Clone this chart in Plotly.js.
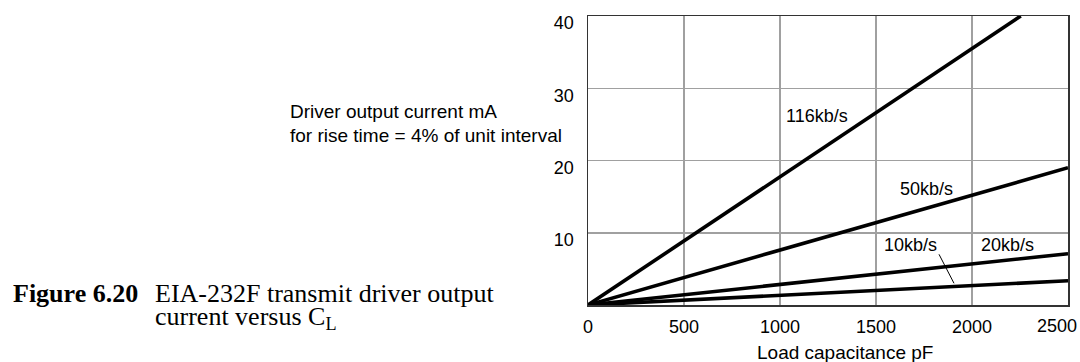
<!DOCTYPE html>
<html>
<head>
<meta charset="utf-8">
<script src="https://cdn.plot.ly/plotly-3.0.1.min.js"></script>
<style>html,body{margin:0;padding:0;background:#fff;}#chart{width:1080px;height:362px;}</style>
</head>
<body>
<div id="chart"></div>
<script>
// ---- data ----
const seriesNames = ['116kb/s', '50kb/s', '20kb/s', '10kb/s'];
const x116 = [0, 2254];
const y116 = [0, 40];
const x50 = [0, 2500];
const y50 = [0, 19.0];
const x20 = [0, 2500];
const y20 = [0, 7.1];
const x10 = [0, 2500];
const y10 = [0, 3.35];
const xTickVals = [0, 500, 1000, 1500, 2000, 2500];
const xTickText = ['0', '500', '1000', '1500', '2000', '2500'];
const yTickVals = [10, 20, 30, 40];
const yTickText = ['10', '20', '30', '40'];

// ---- layout helpers (pixel -> paper) ----
const L = 588, R = 1068, T = 16, B = 305;
const px = v => (v - L) / (R - L);
const py = v => (B - v) / (B - T);
const SANS = 'Arial, "Liberation Sans", Helvetica, sans-serif';
const SERIF = '"Times New Roman", "Liberation Serif", Times, serif';

const lineStyle = {color: '#000', width: 3.6};
const traces = [
  {x: x116, y: y116, name: seriesNames[0]},
  {x: x50, y: y50, name: seriesNames[1]},
  {x: x20, y: y20, name: seriesNames[2]},
  {x: x10, y: y10, name: seriesNames[3]}
].map(t => Object.assign(t, {type: 'scatter', mode: 'lines', line: lineStyle, cliponaxis: false, hoverinfo: 'skip'}));

// label positions (pixels) for the series names
const labelPos = [[816.7, 116.4], [926, 189], [1007, 244.8], [910.7, 244.8]];

const ann = [];
seriesNames.forEach((n, i) => ann.push({
  text: n, xref: 'paper', yref: 'paper', x: px(labelPos[i][0]), y: py(labelPos[i][1]),
  xanchor: 'center', yanchor: 'middle', showarrow: false, font: {family: SANS, size: 18, color: '#000'}
}));
// y-axis description (two lines)
ann.push({text: 'Driver output current mA', xref: 'paper', yref: 'paper', x: px(288), y: py(111.4),
  xanchor: 'left', yanchor: 'middle', showarrow: false, font: {family: SANS, size: 19, color: '#000'}});
ann.push({text: 'for rise time = 4% of unit interval', xref: 'paper', yref: 'paper', x: px(288), y: py(135),
  xanchor: 'left', yanchor: 'middle', showarrow: false, font: {family: SANS, size: 19, color: '#000'}});
// x-axis title
ann.push({text: 'Load capacitance pF', xref: 'paper', yref: 'paper', x: px(845), y: py(352),
  xanchor: 'center', yanchor: 'middle', showarrow: false, font: {family: SANS, size: 19, color: '#000'}});
// last x tick label (pulled inside the page)
ann.push({text: xTickText[xTickText.length - 1], xref: 'x', yref: 'paper', x: xTickVals[xTickVals.length - 1], y: py(326),
  xanchor: 'center', yanchor: 'middle', xshift: -11, showarrow: false, font: {family: SANS, size: 18, color: '#000'}});
// figure caption
ann.push({text: '<b>Figure 6.20</b>', xref: 'paper', yref: 'paper', x: px(11), y: py(293.2),
  xanchor: 'left', yanchor: 'middle', showarrow: false, font: {family: SERIF, size: 26, color: '#000'}});
ann.push({text: 'EIA-232F transmit driver output', xref: 'paper', yref: 'paper', x: px(153), y: py(293.2),
  xanchor: 'left', yanchor: 'middle', showarrow: false, font: {family: SERIF, size: 26, color: '#000'}});
ann.push({text: 'current versus C<sub>L</sub>', xref: 'paper', yref: 'paper', x: px(153), y: py(318.2),
  xanchor: 'left', yanchor: 'middle', showarrow: false, font: {family: SERIF, size: 26, color: '#000'}});

const layout = {
  width: 1080, height: 362,
  margin: {l: L, r: 1080 - R, t: T, b: 362 - B, pad: 0},
  paper_bgcolor: '#fff', plot_bgcolor: '#fff',
  showlegend: false,
  xaxis: {
    range: [0, 2500], tickvals: xTickVals.slice(0, -1), ticktext: xTickText.slice(0, -1),
    showgrid: true, gridcolor: '#a0a0a0', gridwidth: 1.5, zeroline: false,
    showline: true, mirror: true, linecolor: '#333', linewidth: 1.5,
    ticks: '', ticklabelstandoff: 5, tickfont: {family: SANS, size: 18, color: '#000'}, fixedrange: true
  },
  yaxis: {
    range: [0, 40], tickvals: yTickVals, ticktext: yTickText,
    showgrid: true, gridcolor: '#a0a0a0', gridwidth: 1.5, zeroline: false,
    showline: true, mirror: true, linecolor: '#333', linewidth: 1.5,
    ticks: '', ticklabelshift: 7, ticklabelstandoff: 9, tickfont: {family: SANS, size: 18, color: '#000'}, fixedrange: true
  },
  annotations: ann,
  shapes: [{type: 'line', xref: 'paper', yref: 'paper', x0: px(939), y0: py(254.3), x1: px(954), y1: py(283.3),
    line: {color: '#000', width: 1}}]
};

Plotly.newPlot('chart', traces, layout, {displayModeBar: false, staticPlot: true});
</script>
</body>
</html>
